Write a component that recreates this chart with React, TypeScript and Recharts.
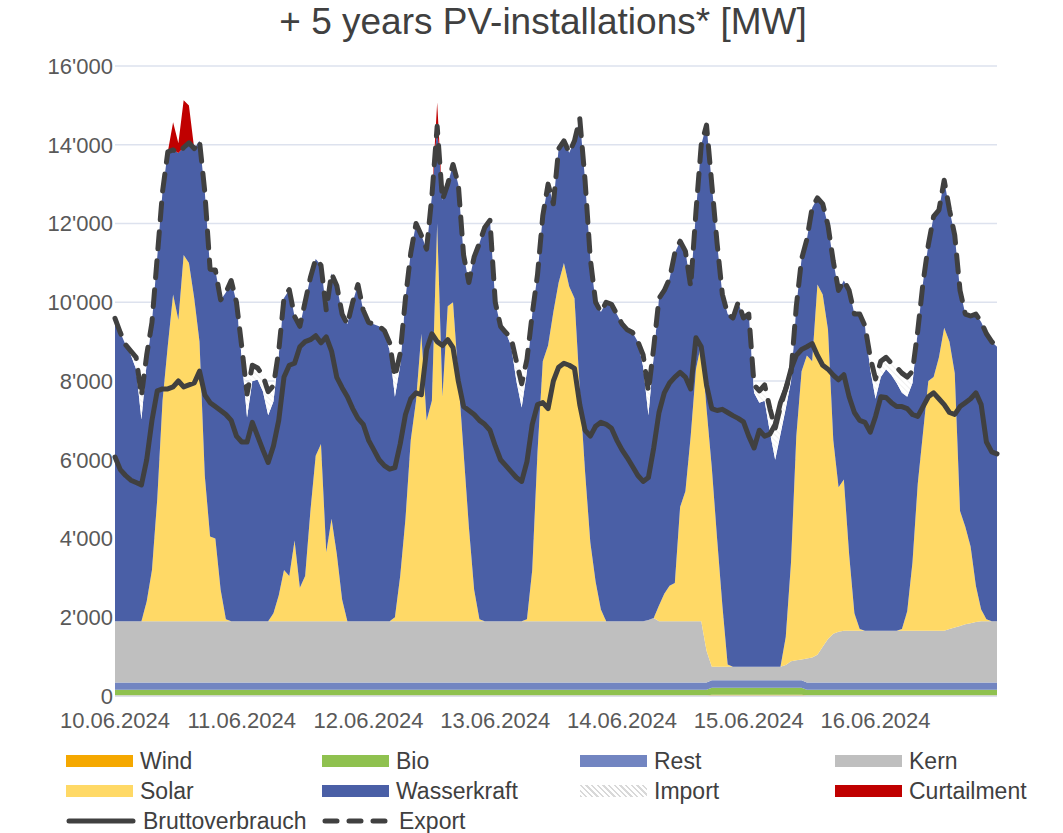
import React from "react";
import {
  ComposedChart,
  Area,
  Line,
  XAxis,
  YAxis,
  CartesianGrid,
} from "recharts";

const FONT = "'Liberation Sans', Arial, sans-serif";

// hourly values 10.06.2024 00:00 .. 16.06.2024 23:00, one row per day
const dayLabels = ["10.06.2024", "11.06.2024", "12.06.2024", "13.06.2024", "14.06.2024", "15.06.2024", "16.06.2024"];
const dayTicks = [0, 24, 48, 72, 96, 120, 144];
const yTicks = [0, 2000, 4000, 6000, 8000, 10000, 12000, 14000, 16000];

const wind = [
  10,10,10,10,10,10,10,10,10,10,10,10,10,10,10,10,10,10,10,10,10,10,10,10,
  10,10,10,10,10,10,10,10,10,10,10,10,10,10,10,10,10,10,10,10,10,10,10,10,
  10,10,10,10,10,10,10,10,10,10,10,10,10,10,10,10,10,10,10,10,10,10,10,10,
  10,10,10,10,10,10,10,10,10,10,10,10,10,10,10,10,10,10,10,10,10,10,10,10,
  10,10,10,10,10,10,10,10,10,10,10,10,10,10,10,10,10,30,30,30,30,30,30,30,
  30,30,30,30,30,30,30,30,30,30,30,10,10,10,10,10,10,10,10,10,10,10,10,10,
  10,10,10,10,10,10,10,10,10,10,10,10,10,10,10,10,10,10,10,10,10,10,10,10,
];

const bio = [
  150,150,150,150,150,150,150,150,150,150,150,150,150,150,150,150,150,150,150,150,150,150,150,150,
  150,150,150,150,150,150,150,150,150,150,150,150,150,150,150,150,150,150,150,150,150,150,150,150,
  150,150,150,150,150,150,150,150,150,150,150,150,150,150,150,150,150,150,150,150,150,150,150,150,
  150,150,150,150,150,150,150,150,150,150,150,150,150,150,150,150,150,150,150,150,150,150,150,150,
  150,150,150,150,150,150,150,150,150,150,150,150,150,150,150,150,150,180,180,180,180,180,180,180,
  180,180,180,180,180,180,180,180,180,180,180,150,150,150,150,150,150,150,150,150,150,150,150,150,
  150,150,150,150,150,150,150,150,150,150,150,150,150,150,150,150,150,150,150,150,150,150,150,150,
];

const rest = [
  180,180,180,180,180,180,180,180,180,180,180,180,180,180,180,180,180,180,180,180,180,180,180,180,
  180,180,180,180,180,180,180,180,180,180,180,180,180,180,180,180,180,180,180,180,180,180,180,180,
  180,180,180,180,180,180,180,180,180,180,180,180,180,180,180,180,180,180,180,180,180,180,180,180,
  180,180,180,180,180,180,180,180,180,180,180,180,180,180,180,180,180,180,180,180,180,180,180,180,
  180,180,180,180,180,180,180,180,180,180,180,180,180,180,180,180,180,190,190,190,190,190,190,190,
  190,190,190,190,190,190,190,190,190,190,190,180,180,180,180,180,180,180,180,180,180,180,180,180,
  180,180,180,180,180,180,180,180,180,180,180,180,180,180,180,180,180,180,180,180,180,180,180,180,
];

const kern = [
  1560,1560,1560,1560,1560,1560,1560,1560,1560,1560,1560,1560,1560,1560,1560,1560,1560,1560,1560,1560,1560,1560,1560,1560,
  1560,1560,1560,1560,1560,1560,1560,1560,1560,1560,1560,1560,1560,1560,1560,1560,1560,1560,1560,1560,1560,1560,1560,1560,
  1560,1560,1560,1560,1560,1560,1560,1560,1560,1560,1560,1560,1560,1560,1560,1560,1560,1560,1560,1560,1560,1560,1560,1560,
  1560,1560,1560,1560,1560,1560,1560,1560,1560,1560,1560,1560,1560,1560,1560,1560,1560,1560,1560,1560,1560,1560,1560,1560,
  1560,1560,1560,1560,1560,1590,1640,1560,1560,1560,1560,1560,1560,1560,1560,1560,810,340,340,340,340,340,340,340,
  340,340,340,340,340,340,340,390,480,510,530,610,640,710,910,1110,1240,1290,1320,1320,1320,1320,1320,1320,
  1320,1320,1320,1320,1320,1320,1320,1320,1320,1320,1320,1320,1320,1320,1360,1400,1440,1480,1510,1540,1560,1560,1560,1560,
];

const solar = [
  0,0,0,0,0,0,500,1300,3100,5600,7000,8300,7650,9300,9100,8200,7100,3700,2150,2100,800,50,0,0,
  0,0,0,0,0,0,200,650,1300,1150,2050,850,1150,2800,4200,4500,1750,2600,1700,550,0,0,0,0,
  0,0,0,0,0,100,1150,2600,4600,5600,7300,5100,5600,10100,5700,8000,8100,6200,4300,2400,800,50,0,0,
  0,0,0,0,0,0,50,1300,4300,6600,7000,7850,8600,9100,8500,8200,5900,3800,2000,1000,300,0,0,0,
  0,0,0,0,0,0,0,400,700,900,970,2900,3300,4700,6400,7050,6150,5060,3260,1560,60,0,0,0,
  0,0,0,0,0,0,0,710,2520,5690,7320,7700,7520,9400,8950,7850,4920,3670,3840,1940,440,40,0,0,
  0,0,0,0,0,40,490,1740,3740,5040,6340,6440,6940,7690,7300,6460,2920,2480,1950,920,300,50,0,0,
];

const wasserkraft = [
  7690,7330,7020,6760,6400,5120,6060,6290,6150,5310,4920,3670,4240,2730,3050,3800,5100,7210,6790,6820,7360,8300,8650,8100,
  6670,5170,6100,6130,5840,5230,5380,6110,6910,7270,5690,6640,6960,5930,5000,4540,6150,6230,6820,7250,7540,8100,8550,7900,
  7590,7540,7490,7380,6870,5600,5350,5600,4750,4500,2500,4350,5200,2470,5000,3100,3500,4900,5000,6200,8450,9550,10000,10180,
  8100,7490,7330,7000,6100,5430,6300,6500,4500,3700,4100,2750,3400,3100,3400,4000,6870,7400,7200,7100,7550,8100,8050,7800,
  7550,7400,7330,7100,6460,5200,6670,7800,7700,7800,8380,6750,6100,3800,4000,5050,7200,7200,7500,7900,8900,8860,9260,8860,
  8960,6960,6710,6760,5960,5260,5910,5800,4600,3300,2850,2950,3900,2200,2300,2650,4540,5000,5050,6700,7600,8000,7740,6640,
  5890,6440,6640,6490,6290,6000,5450,4550,3880,3800,3460,4080,3740,3750,3350,3500,5600,5400,5850,6900,7300,7250,7100,6970,
];

const imports = [
  0,0,0,100,300,600,200,0,0,0,0,0,0,0,0,0,0,0,0,0,0,0,0,0,
  300,600,400,300,400,600,400,100,0,0,0,0,0,0,0,0,0,0,0,0,0,0,0,0,
  0,0,0,0,200,500,300,0,0,0,0,0,0,0,0,0,0,0,0,0,0,0,0,0,
  0,0,0,200,500,600,300,0,0,0,0,0,0,0,0,0,0,0,0,0,0,0,0,0,
  0,0,0,0,300,600,200,0,0,0,0,0,0,0,0,0,0,0,0,0,0,0,0,0,
  0,200,300,400,600,800,700,500,200,0,0,0,0,0,0,0,0,0,0,0,0,0,0,300,
  500,400,300,300,400,500,500,300,0,0,0,0,0,0,0,0,0,0,0,0,0,0,0,0,
];

const curtailment = [
  0,0,0,0,0,0,0,0,0,0,0,700,250,1200,950,0,0,0,0,0,0,0,0,0,
  0,0,0,0,0,0,0,0,0,0,0,0,0,0,0,0,0,0,0,0,0,0,0,0,
  0,0,0,0,0,0,0,0,0,0,0,0,0,600,0,0,0,0,0,0,0,0,0,0,
  0,0,0,0,0,0,0,0,0,0,0,0,0,0,0,0,0,0,0,0,0,0,0,0,
  0,0,0,0,0,0,0,0,0,0,0,0,0,0,0,0,0,0,0,0,0,0,0,0,
  0,0,0,0,0,0,0,0,0,0,0,0,0,0,0,0,0,0,0,0,0,0,0,0,
  0,0,0,0,0,0,0,0,0,0,0,0,0,0,0,0,0,0,0,0,0,0,0,0,
];

const bruttoverbrauch = [
  6070,5750,5600,5480,5420,5360,6000,7000,7750,7800,7800,7850,8000,7850,7900,7950,8250,7650,7450,7350,7250,7150,7000,6600,
  6450,6450,6950,6600,6250,5930,6350,7000,8100,8400,8450,8870,9000,9050,9150,8970,9120,8760,8090,7830,7600,7300,7050,6900,
  6500,6250,6000,5850,5760,5800,6400,7150,7550,7700,7650,8800,9200,9000,8900,9050,8850,8000,7350,7250,7150,7000,6900,6750,
  6350,6000,5850,5700,5550,5450,5950,6900,7400,7450,7300,8000,8350,8450,8400,8320,7400,6750,6600,6850,6950,6900,6800,6500,
  6250,6050,5830,5600,5450,5550,6300,7200,7700,7950,8100,8220,8100,7800,9100,8870,7900,7300,7250,7280,7200,7120,7050,6960,
  6600,6300,6750,6600,6650,6900,7450,7800,8300,8650,8800,8870,8950,8650,8400,8300,8150,8030,8160,7600,7200,7000,6950,6700,
  7100,7600,7580,7450,7350,7350,7300,7150,7100,7350,7600,7700,7550,7400,7200,7150,7350,7450,7550,7700,7400,6450,6200,6150,
];

const exportLine = [
  9590,9230,8920,8760,8600,7620,8660,9490,11150,12810,13820,13870,13790,13930,14050,13900,14100,12810,10840,10820,10060,10250,10550,10000,
  8870,7670,8400,8330,8140,7730,7880,8760,10110,10320,9640,9390,10010,10630,11100,10940,9800,10730,10420,9700,9440,10000,10450,9800,
  9490,9440,9390,9280,8970,8100,8700,10100,11250,12000,11700,11350,12700,14470,12600,13000,13500,13000,11200,10500,11150,11500,11900,12080,
  10000,9390,9230,9100,8500,7930,8550,9700,10700,12200,13000,12500,13900,14100,13800,14100,14670,13100,11100,10000,9750,10000,9950,9700,
  9450,9300,9230,9000,8660,7730,8850,10100,10300,10600,11250,11550,11300,10400,12300,14000,14500,13000,11500,10200,9700,9600,10000,9600,
  9700,7900,7750,7900,7300,6800,7350,7800,8200,9900,11100,11600,12400,12650,12500,11950,11040,10300,10550,10300,9700,9700,9400,8600,
  8050,8500,8600,8450,8350,8200,8100,8250,9280,10500,11460,12180,12340,13100,12350,11700,10300,9700,9650,9700,9500,9200,9000,8870,
];

const data = wind.map((w, i) => ({
  h: i,
  wind: w,
  bio: bio[i],
  rest: rest[i],
  kern: kern[i],
  solar: solar[i],
  wasserkraft: wasserkraft[i],
  imports: imports[i],
  curtailment: curtailment[i],
  brutto: bruttoverbrauch[i],
  export: exportLine[i],
}));

const fmtThousands = (v: number) => String(v).replace(/\B(?=(\d{3})+(?!\d))/g, "'");
const fmtDay = (v: number) => dayLabels[dayTicks.indexOf(v)] ?? "";

const areas = [
  { key: "wind", name: "Wind", color: "#F5A800" },
  { key: "bio", name: "Bio", color: "#8FC14F" },
  { key: "rest", name: "Rest", color: "#7285C1" },
  { key: "kern", name: "Kern", color: "#BFBFBF" },
  { key: "solar", name: "Solar", color: "#FFD966" },
  { key: "wasserkraft", name: "Wasserkraft", color: "#4A5FA6" },
  { key: "imports", name: "Import", color: "url(#importHatch)" },
  { key: "curtailment", name: "Curtailment", color: "#C00000" },
];

const legendRows = [
  ["Wind", "Bio", "Rest", "Kern"],
  ["Solar", "Wasserkraft", "Import", "Curtailment"],
  ["Bruttoverbrauch", "Export"],
];
const legendCols = [66, 322, 580, 835];
const legendRowY = [761, 791, 821];

const Swatch = ({ name }: { name: string }) => {
  if (name === "Bruttoverbrauch" || name === "Export") {
    return (
      <svg width={70} height={12} style={{ display: "block" }}>
        <line
          x1={3}
          y1={6}
          x2={67}
          y2={6}
          stroke="#404040"
          strokeWidth={5}
          strokeLinecap="round"
          strokeDasharray={name === "Export" ? "12 12" : undefined}
        />
      </svg>
    );
  }
  if (name === "Import") {
    return (
      <div
        style={{
          width: 67,
          height: 12,
          background: "repeating-linear-gradient(45deg, #d9d9d9 0 1.5px, #ffffff 1.5px 4px)",
        }}
      />
    );
  }
  const a = areas.find((x) => x.name === name)!;
  return <div style={{ width: 67, height: 12, background: a.color }} />;
};

const ChartLegend = () => (
  <>
    {legendRows.map((row, r) =>
      row.map((name, c) => (
        <div
          key={name}
          style={{
            position: "absolute",
            left: legendCols[c],
            top: legendRowY[r] - 14,
            height: 28,
            display: "flex",
            alignItems: "center",
            gap: 7,
            fontSize: 23,
            color: "#404040",
            whiteSpace: "nowrap",
          }}
        >
          <Swatch name={name} />
          <span>{name}</span>
        </div>
      ))
    )}
  </>
);

const App = () => {
  return (
    <div
      style={{
        position: "absolute",
        left: 0,
        top: 0,
        width: 1063,
        height: 833,
        background: "#ffffff",
        fontFamily: FONT,
      }}
    >
      <div
        style={{
          position: "absolute",
          left: 0,
          top: 0,
          width: 1086,
          textAlign: "center",
          fontSize: 37,
          lineHeight: "44px",
          color: "#404040",
        }}
      >
        + 5 years PV-installations* [MW]
      </div>
      <div style={{ position: "absolute", left: 0, top: 0 }}>
        <ComposedChart
          width={1063}
          height={745}
          data={data}
          margin={{ top: 66, right: 66, bottom: 0, left: 0 }}
        >
          <defs>
            <pattern
              id="importHatch"
              width={4}
              height={4}
              patternUnits="userSpaceOnUse"
              patternTransform="rotate(-45)"
            >
              <rect width={4} height={4} fill="#ffffff" />
              <line x1={0} y1={0} x2={0} y2={4} stroke="#e6e6e6" strokeWidth={1.2} />
            </pattern>
          </defs>
          <CartesianGrid vertical={false} stroke="#dde2ee" strokeWidth={1.5} />
          <XAxis
            dataKey="h"
            type="number"
            domain={[0, 167]}
            ticks={dayTicks}
            tickFormatter={fmtDay}
            height={49}
            tickSize={0}
            tickMargin={16}
            axisLine={{ stroke: "#d9dce8", strokeWidth: 1.5 }}
            tick={{ fill: "#595959", fontSize: 22, fontFamily: FONT }}
          />
          <YAxis
            domain={[0, 16000]}
            ticks={yTicks}
            tickFormatter={fmtThousands}
            width={115}
            tickSize={0}
            tickMargin={2}
            axisLine={false}
            tick={{ fill: "#595959", fontSize: 22, fontFamily: FONT }}
          />
          {areas.map((a) => (
            <Area
              key={a.key}
              type="linear"
              dataKey={a.key}
              name={a.name}
              stackId="mix"
              stroke="none"
              fill={a.color}
              fillOpacity={1}
              isAnimationActive={false}
            />
          ))}
          <Line
            type="linear"
            dataKey="export"
            name="Export"
            stroke="#404040"
            strokeWidth={5}
            strokeDasharray="17 12"
            strokeLinecap="round"
            strokeLinejoin="round"
            dot={false}
            isAnimationActive={false}
          />
          <Line
            type="linear"
            dataKey="brutto"
            name="Bruttoverbrauch"
            stroke="#404040"
            strokeWidth={5}
            strokeLinecap="round"
            strokeLinejoin="round"
            dot={false}
            isAnimationActive={false}
          />
        </ComposedChart>
      </div>
      <ChartLegend />
    </div>
  );
};

export default App;
